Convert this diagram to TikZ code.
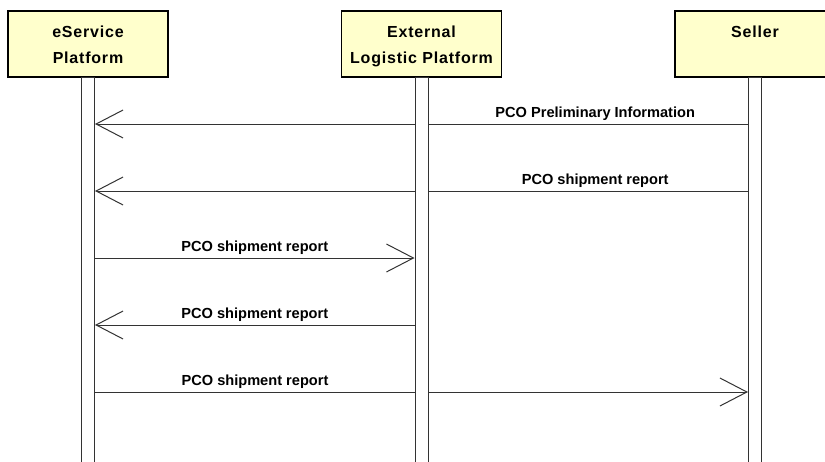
\documentclass[tikz,border=0pt]{standalone}
\usepackage{fontspec}
\setmainfont{Liberation Sans}
\newfontfamily\titlefont[LetterSpace=5]{Liberation Sans}
\usepackage{tikz}
\usetikzlibrary{positioning, arrows.meta, backgrounds}

\definecolor{actorfill}{HTML}{FFFFCC}
\definecolor{linegray}{HTML}{333333}

\begin{document}
\begin{tikzpicture}[x=1pt, y=-1pt,
        actor/.style={draw=black, line width=1.8pt, fill=actorfill, minimum width=160pt, minimum height=66pt, inner sep=0},
        actortitle/.style={font=\titlefont\fontsize{16}{26}\selectfont\bfseries, align=center, inner sep=0},
        lifeline/.style={draw=linegray, line width=1pt, fill=white, minimum width=13pt, minimum height=400pt, inner sep=0, anchor=north},
        msg/.style={draw=linegray, line width=1pt, -{Straight Barb[length=27pt, width=28pt]}},
        msglabel/.style={font=\fontsize{14.6}{16}\selectfont\bfseries, inner sep=0, text depth=3pt, above=3.5pt}]

        % Fix the page size
        \useasboundingbox (0,0) rectangle (825,461);
        \clip (0,0) rectangle (825,461);

        % Draw the actor boxes
        \node[actor] (eserv) at (88,44) {};
        \node[actor] (logist) at (421.5,44) {};
        \node[actor] (seller) at (755,44) {};

        % Actor titles
        \node[actortitle, below=16pt of eserv.north] (eservtitle) {eService\\Platform};
        \node[actortitle, below=16pt of logist.north] (logisttitle) {External\\Logistic Platform};
        \node[actortitle, below=16pt of seller.north] (sellertitle) {Seller};

        % Draw the lifelines
        \node[lifeline] (eservbar) at ([yshift=1pt]eserv.south) {};
        \node[lifeline] (logistbar) at ([yshift=1pt]logist.south) {};
        \node[lifeline] (sellerbar) at ([yshift=1pt]seller.south) {};

        % Draw the messages (behind the lifelines)
        \begin{scope}[on background layer]
            \foreach \src/\dst/\y/\p/\txt [count=\i] in {
                sellerbar.west/eservbar.east/124/0.234/PCO Preliminary Information,
                sellerbar.west/eservbar.east/191/0.234/PCO shipment report,
                eservbar.east/logistbar.west/258/0.5/PCO shipment report,
                logistbar.west/eservbar.east/325/0.5/PCO shipment report,
                eservbar.east/sellerbar.west/392/0.245/PCO shipment report} {
                \draw[msg] (\src |- 0,\y) -- node[msglabel, pos=\p] (label\i) {\txt} (\dst |- 0,\y);
            }
        \end{scope}
    \end{tikzpicture}
\end{document}
